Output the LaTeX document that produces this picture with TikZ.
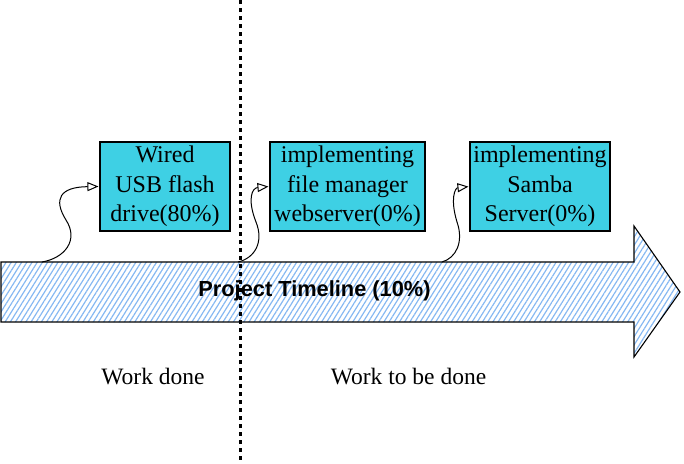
\documentclass[tikz,border=0pt]{standalone}
\usepackage{fontspec}
\setmainfont{Liberation Serif}
\newfontfamily\titlefont{Liberation Sans}
\usepackage{tikz}
\usetikzlibrary{arrows.meta,%
                patterns.meta}
\definecolor{taskcyan}{HTML}{3ED0E4}
\definecolor{hatchblue}{HTML}{86B8F2}

\begin{document}
\begin{tikzpicture}[x=1pt,y=-1pt,line width=1.1pt]
  \tikzstyle{task}=[draw=black,fill=taskcyan,minimum height=89pt,inner sep=2pt,align=center,font=\fontsize{24}{29.5}\selectfont]
  \tikzstyle{link}=[-{Triangle[open,length=11pt,width=9pt]},line width=1pt,shorten >=1pt]
  \tikzstyle{timeline}=[draw=black,pattern={Lines[angle=58,distance=4.4pt,line width=1.2pt]},pattern color=hatchblue]
  \tikzstyle{phase}=[font=\fontsize{23.5}{28}\selectfont]
  \useasboundingbox (0,0) rectangle (684,463);
  \draw[timeline] (1,262) -- (634,262) -- (634,226) -- (680,292) -- (634,357) -- (634,322) -- (1,322) -- cycle;
  \node[font=\titlefont\bfseries\fontsize{21.8}{26}\selectfont] (T) at (314.5,291) {Project Timeline (10\%)};
  \node[task,minimum width=130pt] (W_1) at (165,186.5) {Wired\\USB flash\\drive(80\%)};
  \node[task,minimum width=155pt] (W_2) at (347.5,186.5) {implementing\\file manager\\webserver(0\%)};
  \node[task,minimum width=140pt] (W_3) at (540,186.5) {implementing\\Samba\\Server(0\%)};
  \coordinate (S_1) at (42,262);
  \coordinate (S_2) at (238,262);
  \coordinate (S_3) at (442,262);
  \draw[link] (S_1) .. controls (65,258) and (79,240) .. (66,220) .. controls (53,199) and (60,187) .. (W_1.west);
  \draw[link] (S_2) .. controls (255,258) and (264,242) .. (256,222) .. controls (247,199) and (252,188) .. (W_2.west);
  \draw[link] (S_3) .. controls (456,258) and (464,242) .. (457,222) .. controls (450,199) and (455,188) .. (W_3.west);
  \coordinate (D_1) at (240,0);
  \coordinate (D_2) at (240,463);
  \draw[line width=3pt,dash pattern=on 3.5pt off 4.5pt] (D_1) -- (D_2);
  \node[phase] (P_1) at (153,377) {Work done};
  \node[phase] (P_2) at (408.5,377) {Work to be done};
\end{tikzpicture}
\end{document}
